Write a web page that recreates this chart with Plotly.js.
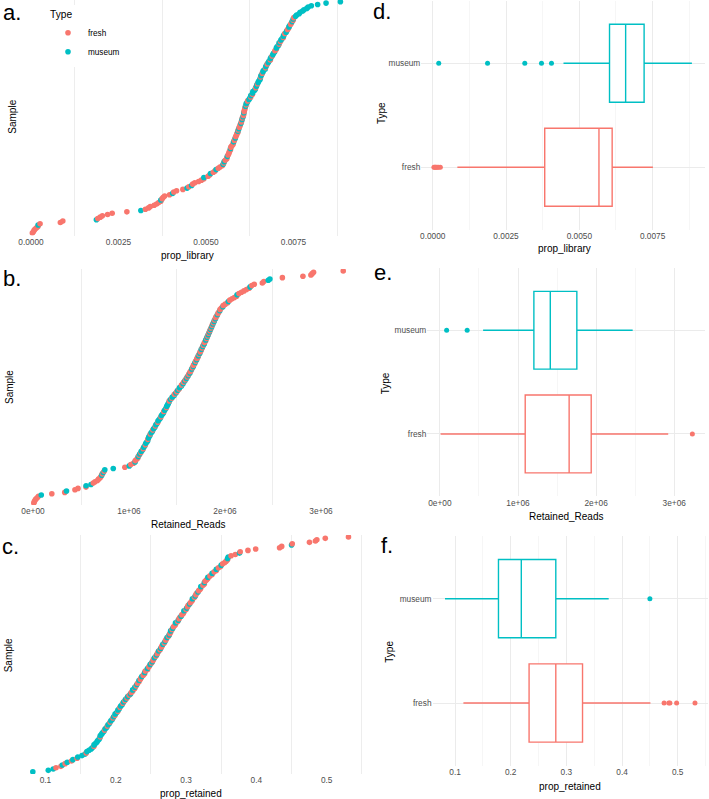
<!DOCTYPE html>
<html>
<head>
<meta charset="utf-8">
<script src="https://cdn.plot.ly/plotly-3.0.1.min.js"></script>
<style>
  html, body { margin: 0; padding: 0; background: #ffffff; }
  #chart { width: 709px; height: 799px; }
</style>
</head>
<body>
<div id="chart"></div>
<script>
// ---- sample values by type ----
const typeNames = ['fresh', 'museum'];
const typeColors = ['#F8766D', '#00BFC4'];

const freshPropLibrary = [
  0.00004, 0.00007, 0.00009, 0.00012, 0.00016, 0.00020, 0.00026,
  0.00084, 0.00091,
  0.00191, 0.00198, 0.00204, 0.00219, 0.00232, 0.00274,
  0.00327, 0.00336, 0.00341, 0.00352, 0.00359, 0.00365, 0.00371, 0.00375, 0.00378, 0.00382,
  0.00396, 0.00408, 0.00416, 0.00434, 0.00451, 0.00462, 0.00468, 0.00479, 0.00487, 0.00494, 0.00506,
  0.00511, 0.00521, 0.00526, 0.00535, 0.00540, 0.00547, 0.00551, 0.00555, 0.00559, 0.00560, 0.00563,
  0.00565, 0.00566, 0.00568, 0.00570, 0.00571, 0.00574, 0.00577, 0.00578, 0.00581, 0.00582, 0.00585,
  0.00587, 0.00588, 0.00591, 0.00592, 0.00595, 0.00597, 0.00598, 0.00601, 0.00602, 0.00604, 0.00607,
  0.00608, 0.00609, 0.00610, 0.00611, 0.00612, 0.00615, 0.00619, 0.00628, 0.00633, 0.00642, 0.00647,
  0.00656, 0.00661, 0.00670, 0.00675, 0.00684, 0.00689, 0.00697, 0.00701, 0.00709, 0.00713, 0.00721,
  0.00725, 0.00733, 0.00736, 0.00742, 0.00744, 0.00749, 0.00751
];
const museumPropLibrary = [
  0.000205, 0.00187, 0.00314, 0.00371, 0.00405, 0.00446,
  0.00459, 0.00494, 0.00513, 0.00529, 0.00549, 0.00552, 0.00561, 0.00570, 0.00579, 0.00584,
  0.00591, 0.00594, 0.00600, 0.00603, 0.00606, 0.00608, 0.00613, 0.00615, 0.00618, 0.00623,
  0.00625, 0.00628, 0.00633, 0.00634, 0.00639, 0.00641, 0.00644, 0.00645, 0.00649, 0.00651,
  0.00654, 0.00655, 0.00657, 0.00659, 0.00663, 0.00664, 0.00669, 0.00671, 0.00673, 0.00678,
  0.00680, 0.00684, 0.00686, 0.00691, 0.00693, 0.00696, 0.00701, 0.00703, 0.00707, 0.00709,
  0.00714, 0.00717, 0.00721, 0.00723, 0.00729, 0.00731, 0.00737, 0.00739, 0.00746, 0.00749,
  0.00756, 0.00759, 0.00766, 0.00769, 0.00776, 0.00780, 0.00788, 0.00792, 0.00801, 0.00819,
  0.00843, 0.00884
];

const freshRetainedReads = [
  8500, 13800, 21500, 29700, 43900, 56800, 196000, 331000, 437000, 469000,
  552000, 628000, 646000, 671000, 683000, 699000, 708000, 722000, 741000, 957000,
  1019000, 1047000, 1066000, 1081000, 1092000, 1105000, 1124000, 1148000, 1171000, 1196000,
  1222000, 1248000, 1275000, 1301000, 1333000, 1362000, 1391000, 1420000, 1446000, 1473000,
  1498000, 1522000, 1547000, 1568000, 1588000, 1606000, 1622000, 1637000, 1648000, 1661000,
  1672000, 1684000, 1695000, 1707000, 1718000, 1729000, 1741000, 1752000, 1763000, 1774000,
  1786000, 1797000, 1808000, 1819000, 1831000, 1843000, 1855000, 1867000, 1879000, 1891000,
  1903000, 1915000, 1927000, 1937000, 1948000, 1962000, 1981000, 2003000, 2027000, 2050000,
  2074000, 2098000, 2121000, 2146000, 2172000, 2198000, 2224000, 2251000, 2279000, 2305000,
  2389000, 2405000, 2598000, 2812000, 2895000, 2908000, 2923000, 3232000
];
const museumRetainedReads = [
  86000, 349000, 553000, 604000, 716000, 732000, 748000, 836000, 1003000, 1064000,
  1096000, 1112000, 1128000, 1141000, 1153000, 1164000, 1175000, 1186000, 1195000, 1203000,
  1207000, 1218000, 1231000, 1243000, 1256000, 1268000, 1280000, 1292000, 1303000, 1315000,
  1326000, 1338000, 1349000, 1360000, 1371000, 1382000, 1393000, 1402000, 1410000, 1416000,
  1432000, 1451000, 1470000, 1489000, 1508000, 1527000, 1545000, 1563000, 1581000, 1599000,
  1617000, 1635000, 1653000, 1670000, 1688000, 1705000, 1722000, 1738000, 1753000, 1768000,
  1784000, 1799000, 1813000, 1826000, 1838000, 1850000, 1862000, 1874000, 1887000, 1901000,
  1921000, 1946000, 1978000, 2035000, 2126000, 2262000, 2451000, 2468000
];

const freshPropRetained = [
  0.115, 0.122, 0.128, 0.137, 0.145, 0.158, 0.169, 0.178, 0.184, 0.188,
  0.192, 0.196, 0.199, 0.203, 0.206, 0.210, 0.213, 0.216, 0.219, 0.222,
  0.224, 0.227, 0.229, 0.231, 0.233, 0.235, 0.236, 0.239, 0.241, 0.242,
  0.245, 0.247, 0.248, 0.251, 0.253, 0.254, 0.257, 0.259, 0.260, 0.263,
  0.265, 0.266, 0.269, 0.271, 0.272, 0.275, 0.277, 0.278, 0.280, 0.282,
  0.284, 0.285, 0.288, 0.290, 0.291, 0.294, 0.296, 0.297, 0.300, 0.302,
  0.303, 0.306, 0.308, 0.309, 0.312, 0.314, 0.315, 0.318, 0.320, 0.321,
  0.324, 0.326, 0.327, 0.329, 0.331, 0.334, 0.337, 0.340, 0.343, 0.346,
  0.349, 0.352, 0.355, 0.357, 0.359, 0.364, 0.370, 0.377, 0.388, 0.399,
  0.433, 0.436, 0.451, 0.4755, 0.484, 0.486, 0.498, 0.531
];
const museumPropRetained = [
  0.082, 0.104, 0.111, 0.124, 0.131, 0.139, 0.146, 0.152, 0.156, 0.159,
  0.162, 0.165, 0.167, 0.169, 0.171, 0.173, 0.174, 0.176, 0.177, 0.178,
  0.180, 0.181, 0.183, 0.185, 0.187, 0.189, 0.191, 0.193, 0.195, 0.197,
  0.199, 0.201, 0.203, 0.205, 0.207, 0.209, 0.211, 0.214, 0.217, 0.221,
  0.224, 0.227, 0.230, 0.233, 0.237, 0.241, 0.245, 0.249, 0.252, 0.255,
  0.258, 0.261, 0.264, 0.267, 0.270, 0.273, 0.276, 0.278, 0.281, 0.285,
  0.289, 0.293, 0.297, 0.301, 0.305, 0.309, 0.313, 0.317, 0.321, 0.326,
  0.331, 0.337, 0.343, 0.350, 0.359, 0.360, 0.376, 0.450
];

// ---- axis ticks ----
const libTickVals = [0, 0.0025, 0.005, 0.0075];
const libTickText = ['0.0000', '0.0025', '0.0050', '0.0075'];
const readsTickVals = [0, 1e6, 2e6, 3e6];
const readsTickText = ['0e+00', '1e+06', '2e+06', '3e+06'];
const retTickVals = [0.1, 0.2, 0.3, 0.4, 0.5];
const retTickText = ['0.1', '0.2', '0.3', '0.4', '0.5'];

// ---- page geometry (pixels) ----
const W = 709, H = 799;
const FONT = 'Liberation Sans, Arial, Helvetica, sans-serif';
const xd = (a, b) => [a / W, Math.min(b / W, 1)];
const yd = (top, bottom) => [1 - bottom / H, 1 - top / H];

// midpoints between major ticks, plus one beyond each end
function halfSteps(vals) {
  const step = vals[1] - vals[0];
  const out = [vals[0] - step / 2];
  vals.forEach(v => out.push(v + step / 2));
  return out;
}

// all samples of one metric, ordered by value, ranked bottom to top
function ranked(fresh, museum) {
  const pts = fresh.map(v => ({ v, c: typeColors[0] }))
    .concat(museum.map(v => ({ v, c: typeColors[1] })));
  pts.sort((p, q) => p.v - q.v);
  return {
    x: pts.map(p => p.v),
    y: pts.map((p, i) => i + 1),
    color: pts.map(p => p.c)
  };
}

// rank axis range so that rank 1 and rank n sit at the given pixel rows
function rankRange(n, top, bottom, lowPx, highPx) {
  const k = (lowPx - highPx) / (n - 1);
  return [1 - (bottom - lowPx) / k, n + (highPx - top) / k];
}

const metrics = [
  { fresh: freshPropLibrary, museum: museumPropLibrary, title: 'prop_library',
    tv: libTickVals, tt: libTickText, range: [-0.00039, 0.00928],
    left: { x: [17.3, 355.8], y: [0, 235.5], pts: [233, 1.8], letter: 'a.', lp: [12, 12.5],
            title: [187.5, 255], sample: [11.7, 117] },
    right: { x: [421.3, 704.8], y: [0.9, 229.7], letter: 'd.', lp: [381.7, 11.7],
             title: [564, 248.3], type: [381.7, 113.3] } },
  { fresh: freshRetainedReads, museum: museumRetainedReads, title: 'Retained_Reads',
    tv: readsTickVals, tt: readsTickText, range: [-161500, 3390000],
    left: { x: [17.5, 358.4], y: [269, 505], pts: [503, 271], letter: 'b.', lp: [12, 278],
            title: [188.3, 524.3], sample: [9.3, 386.7] },
    right: { x: [427.3, 704.7], y: [268, 496.2], letter: 'e.', lp: [383, 272.5],
             title: [566, 516.7], type: [385, 383.3] } },
  { fresh: freshPropRetained, museum: museumPropRetained, title: 'prop_retained',
    tv: retTickVals, tt: retTickText, range: [0.0595, 0.5535],
    left: { x: [17, 364.3], y: [535, 774], pts: [771.7, 537], letter: 'c.', lp: [10, 546],
            title: [190.7, 793.3], sample: [8.3, 655] },
    right: { x: [432.5, 707.5], y: [536.1, 765.6], letter: 'f.', lp: [387, 545],
             title: [570, 786.7], type: [390, 651.7] } }
];

const tickFont = { family: FONT, size: 8.3, color: '#4D4D4D' };
const titleFont = { family: FONT, size: 10, color: '#000000' };
const letterFont = { family: FONT, size: 22, color: '#000000' };

const traces = [];
const layout = {
  width: W, height: H,
  margin: { l: 0, r: 0, t: 0, b: 0 },
  paper_bgcolor: '#ffffff', plot_bgcolor: 'rgba(0,0,0,0)',
  showlegend: true,
  legend: {
    x: 48 / W, y: 1 - 5 / H, xanchor: 'left', yanchor: 'top',
    bgcolor: '#ffffff', borderwidth: 0,
    title: { text: 'Type', font: { family: FONT, size: 10.2, color: '#000000' } },
    font: { family: FONT, size: 8.2, color: '#000000' },
    tracegroupgap: 0, itemclick: false
  },
  annotations: []
};

function addText(text, px, py, font, angle) {
  layout.annotations.push({
    text, x: px / W, y: 1 - py / H, xref: 'paper', yref: 'paper',
    xanchor: 'center', yanchor: 'middle', showarrow: false,
    font, textangle: angle || 0
  });
}

metrics.forEach((m, i) => {
  const li = 2 * i + 1, ri = 2 * i + 2;
  const lx = 'x' + li, ly = 'y' + li, rx = 'x' + ri, ry = 'y' + ri;
  const L = m.left, R = m.right;
  const mids = halfSteps(m.tv);

  // ranked sample dots
  const r = ranked(m.fresh, m.museum);
  traces.push({
    type: 'scatter', mode: 'markers', x: r.x, y: r.y, xaxis: lx, yaxis: ly,
    marker: { color: r.color, size: 5.6, line: { width: 0 } },
    showlegend: false, hoverinfo: 'x'
  });

  // box plots by type
  [m.fresh, m.museum].forEach((vals, t) => {
    traces.push({
      type: 'box', orientation: 'h', x: vals, name: typeNames[t],
      xaxis: rx, yaxis: ry, width: 0.75, whiskerwidth: 0,
      line: { color: typeColors[t], width: 1.4 }, fillcolor: '#ffffff',
      marker: { color: typeColors[t], size: 5, line: { width: 0 } },
      boxpoints: 'outliers', jitter: 0, pointpos: 0,
      showlegend: false
    });
  });

  const baseX = {
    range: m.range, tickmode: 'array', tickvals: m.tv, ticktext: m.tt,
    tickfont: tickFont, ticks: '', zeroline: false, showline: false,
    fixedrange: true
  };
  layout['xaxis' + li] = Object.assign({}, baseX, {
    domain: xd(L.x[0], L.x[1]), anchor: ly, showgrid: false,
    minor: { tickmode: 'array', tickvals: mids, showgrid: true, gridcolor: '#EDEDED', gridwidth: 1, ticks: '' }
  });
  layout['yaxis' + li] = {
    domain: yd(L.y[0], L.y[1]), anchor: lx,
    range: rankRange(r.x.length, L.y[0], L.y[1], L.pts[0], L.pts[1]),
    showticklabels: false, showgrid: false, zeroline: false, showline: false, fixedrange: true
  };
  layout['xaxis' + ri] = Object.assign({}, baseX, {
    domain: xd(R.x[0], R.x[1]), anchor: ry, showgrid: true, gridcolor: '#EBEBEB', gridwidth: 1,
    minor: { tickmode: 'array', tickvals: mids, showgrid: true, gridcolor: '#F2F2F2', gridwidth: 0.7, ticks: '' }
  });
  layout['yaxis' + ri] = {
    domain: yd(R.y[0], R.y[1]), anchor: rx, type: 'category',
    categoryorder: 'array', categoryarray: typeNames, range: [-0.6, 1.6],
    tickfont: tickFont, ticks: '', showgrid: true, gridcolor: '#EBEBEB', gridwidth: 1,
    zeroline: false, showline: false, fixedrange: true
  };

  addText(L.letter, L.lp[0], L.lp[1], letterFont);
  addText(R.letter, R.lp[0], R.lp[1], letterFont);
  addText(m.title, L.title[0], L.title[1], titleFont);
  addText(m.title, R.title[0], R.title[1], titleFont);
  addText('Sample', L.sample[0], L.sample[1], titleFont, -90);
  addText('Type', R.type[0], R.type[1], titleFont, -90);
});

// legend keys for the two sample types
typeNames.forEach((name, t) => {
  traces.push({
    type: 'scatter', mode: 'markers', x: [null], y: [null], xaxis: 'x1', yaxis: 'y1',
    name, marker: { color: typeColors[t], size: 5.6 }, showlegend: true, hoverinfo: 'skip'
  });
});

Plotly.newPlot('chart', traces, layout, { displayModeBar: false, staticPlot: true });
</script>
</body>
</html>
